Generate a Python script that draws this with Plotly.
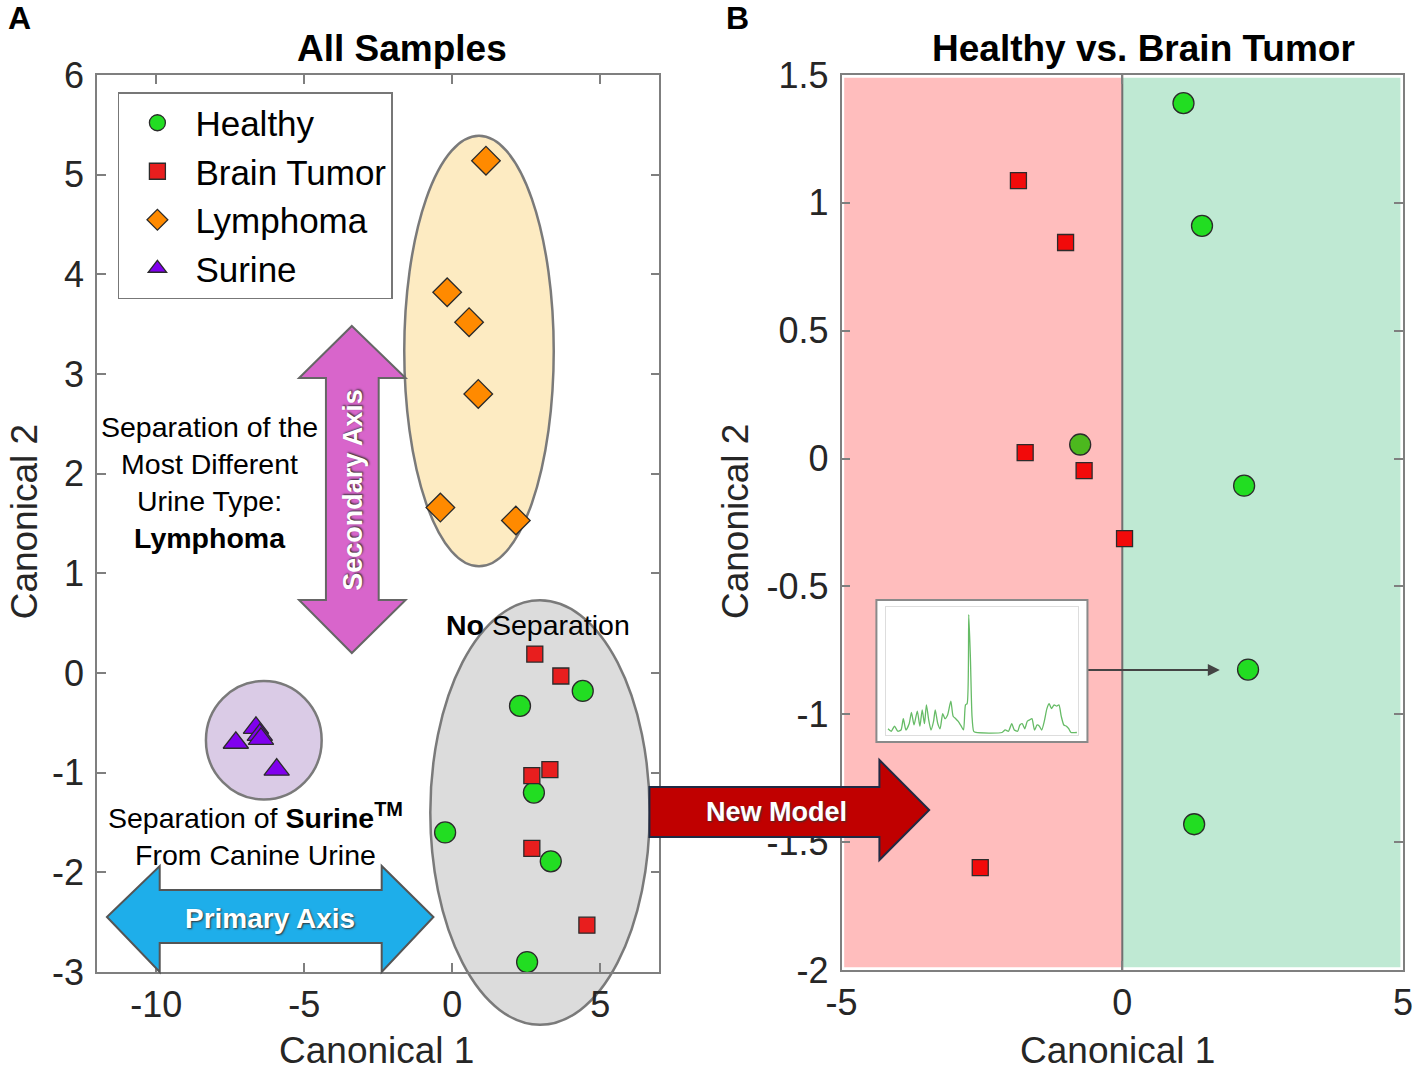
import plotly.graph_objects as go

# ---------------- data ----------------
# Panel A: All Samples (Canonical 1, Canonical 2)
healthy_a_x = [4.41, 2.29, 2.76, -0.24, 3.33, 2.53]
healthy_a_y = [-0.18, -0.33, -1.20, -1.60, -1.89, -2.90]
tumor_a_x = [2.79, 3.67, 2.69, 3.30, 2.69, 4.55]
tumor_a_y = [0.19, -0.03, -1.03, -0.97, -1.76, -2.53]
lymph_a_x = [1.14, -0.17, 0.57, 0.88, -0.40, 2.15]
lymph_a_y = [5.14, 3.82, 3.52, 2.80, 1.66, 1.53]
surine_a_x = [-7.31, -6.63, -6.50, -6.46, -5.93]
surine_a_y = [-0.70, -0.55, -0.62, -0.66, -0.97]

# Panel B: Healthy vs. Brain Tumor
healthy_b_x = [1.09, 1.42, -0.75, 2.17, 2.24, 1.28]
healthy_b_y = [1.39, 0.91, 0.055, -0.106, -0.825, -1.43]
tumor_b_x = [-1.85, -1.01, -1.73, -0.68, 0.04, -2.53]
tumor_b_y = [1.087, 0.845, 0.023, -0.047, -0.313, -1.60]

# Inset spectrum (arbitrary channel, relative intensity)
spec_ch = [60, 70, 80, 90, 100, 107, 115, 125, 132, 140, 150, 158, 165, 172, 178, 185,
           192, 200, 205, 213, 220, 228, 235, 243, 253, 260, 268, 275, 285, 292, 298, 303,
           308, 313, 318, 323, 330, 410, 420, 430, 440, 448, 458, 465, 472, 480, 488, 495,
           502, 510, 518, 525, 532, 540, 548, 555, 562, 570, 578, 585, 592, 600, 608, 615,
           622, 640]
spec_int = [0.03, 0.01, 0.05, 0.01, 0.02, 0.11, 0.02, 0.07, 0.16, 0.06, 0.17, 0.05, 0.18,
            0.07, 0.22, 0.10, 0.02, 0.09, 0.18, 0.07, 0.03, 0.15, 0.11, 0.14, 0.25, 0.13,
            0.11, 0.09, 0.05, 0.02, 0.22, 0.23, 0.94, 0.60, 0.13, 0.01, 0.0, 0.0, 0.02,
            0.01, 0.07, 0.02, 0.01, 0.06, 0.07, 0.03, 0.09, 0.10, 0.11, 0.02, 0.06, 0.05,
            0.02, 0.09, 0.19, 0.23, 0.19, 0.22, 0.21, 0.22, 0.13, 0.06, 0.05, 0.03, 0.0, 0.0]

xticks_a = [-10, -5, 0, 5]
xticktext_a = ["-10", "-5", "0", "5"]
yticks_a = [-3, -2, -1, 0, 1, 2, 3, 4, 5, 6]
yticktext_a = ["-3", "-2", "-1", "0", "1", "2", "3", "4", "5", "6"]
xticks_b = [-5, 0, 5]
xticktext_b = ["-5", "0", "5"]
yticks_b = [-2, -1.5, -1, -0.5, 0, 0.5, 1, 1.5]
yticktext_b = ["-2", "-1.5", "-1", "-0.5", "0", "0.5", "1", "1.5"]

# ---------------- layout geometry ----------------
W, H = 1425, 1072
L, R, T, B = 97, 16, 75, 100
PW, PH = W - L - R, H - T - B

def px(x):
    return (x - L) / PW

def py(y):
    return 1 - (y - T) / PH

XR_A, YR_A = [-12, 7], [-3, 6]
XR_B, YR_B = [-5, 5], [-2, 1.5]
DX_A = [0, px(662)]
DX_B = [px(845), 1]
DY_A = [0, 1]
DY_B = [py(970), 1]

def to_paper(v, rng, dom):
    return dom[0] + (v - rng[0]) / (rng[1] - rng[0]) * (dom[1] - dom[0])

def path(pts):
    return "M " + " L ".join(f"{px(a):.5f},{py(b):.5f}" for a, b in pts) + " Z"

FONT = "Liberation Sans, Arial, Helvetica, sans-serif"
EDGE = "#2b2b2b"

fig = go.Figure()

# Panel A traces
fig.add_trace(go.Scatter(x=healthy_a_x, y=healthy_a_y, mode="markers", name="Healthy",
                         marker=dict(symbol="circle", size=21, color="#22DD22",
                                     line=dict(color=EDGE, width=1.3)),
                         xaxis="x", yaxis="y"))
fig.add_trace(go.Scatter(x=tumor_a_x, y=tumor_a_y, mode="markers", name="Brain Tumor",
                         marker=dict(symbol="square", size=16, color="#E81E1E",
                                     line=dict(color=EDGE, width=1.3)),
                         xaxis="x", yaxis="y"))
fig.add_trace(go.Scatter(x=lymph_a_x, y=lymph_a_y, mode="markers", name="Lymphoma",
                         marker=dict(symbol="diamond", size=22, color="#FF8A00",
                                     line=dict(color=EDGE, width=1.3)),
                         xaxis="x", yaxis="y"))
fig.add_trace(go.Scatter(x=surine_a_x, y=surine_a_y, mode="markers", name="Surine",
                         marker=dict(symbol="triangle-up", size=22, color="#8000EE",
                                     line=dict(color=EDGE, width=1.3)),
                         xaxis="x", yaxis="y"))

# Panel B traces
hb_colors = ["#4CB81E" if v < 0 else "#22DD22" for v in healthy_b_x]
fig.add_trace(go.Scatter(x=healthy_b_x, y=healthy_b_y, mode="markers", showlegend=False,
                         marker=dict(symbol="circle", size=21, color=hb_colors,
                                     line=dict(color=EDGE, width=1.3)),
                         xaxis="x2", yaxis="y2"))
fig.add_trace(go.Scatter(x=tumor_b_x, y=tumor_b_y, mode="markers", showlegend=False,
                         marker=dict(symbol="square", size=16, color="#F20A0A",
                                     line=dict(color=EDGE, width=1.3)),
                         xaxis="x2", yaxis="y2"))

# Inset spectrum
fig.add_trace(go.Scatter(x=spec_ch, y=spec_int, mode="lines", showlegend=False,
                         line=dict(color="#66BB66", width=1.3, shape="spline", smoothing=0.6),
                         xaxis="x3", yaxis="y3"))

shapes = []
xb0 = to_paper(-5, XR_B, DX_B); xbm = to_paper(0, XR_B, DX_B); xb1 = to_paper(5, XR_B, DX_B)
yb0 = to_paper(-2, YR_B, DY_B); yb1 = to_paper(1.5, YR_B, DY_B)
shapes.append(dict(type="rect", xref="paper", yref="paper", x0=xb0 + 0.002, x1=xbm,
                   y0=yb0 + 0.003, y1=yb1 - 0.003, fillcolor="#FFBDBD", line=dict(width=0),
                   layer="below"))
shapes.append(dict(type="rect", xref="paper", yref="paper", x0=xbm, x1=xb1 - 0.002,
                   y0=yb0 + 0.003, y1=yb1 - 0.003, fillcolor="#BFE9D3", line=dict(width=0),
                   layer="below"))
shapes.append(dict(type="line", xref="paper", yref="paper", x0=xbm, x1=xbm, y0=yb0, y1=yb1,
                   line=dict(color="#707070", width=2), layer="below"))

def ell(x0, x1, y0, y1, fill):
    return dict(type="circle", xref="paper", yref="paper",
                x0=to_paper(x0, XR_A, DX_A), x1=to_paper(x1, XR_A, DX_A),
                y0=to_paper(y0, YR_A, DY_A), y1=to_paper(y1, YR_A, DY_A),
                fillcolor=fill, line=dict(color="#7a7a7a", width=2.5), layer="below")

shapes.append(ell(-1.62, 3.43, 1.07, 5.39, "#FDEBC2"))
shapes.append(ell(-0.74, 6.67, -3.53, 0.73, "#DCDCDC"))
shapes.append(ell(-8.32, -4.41, -1.27, -0.08, "#DACBE6"))

shapes.append(dict(type="rect", xref="paper", yref="paper", x0=px(880), x1=px(1092),
                   y0=py(742), y1=py(600), fillcolor="white",
                   line=dict(color="#8a8a8a", width=2), layer="below"))

shapes.append(dict(type="path", xref="paper", yref="paper",
                   path=path([(353, 326), (407, 378), (380, 378), (380, 600), (407, 600),
                              (353, 653), (300, 600), (327, 600), (327, 378), (300, 378)]),
                   fillcolor="#D865CB", line=dict(color="#666666", width=2), layer="above"))
shapes.append(dict(type="path", xref="paper", yref="paper",
                   path=path([(107, 917), (160, 866), (160, 890), (383, 890), (383, 866),
                              (435, 917), (383, 972), (383, 943), (160, 943), (160, 972)]),
                   fillcolor="#1EAEEA", line=dict(color="#555555", width=2), layer="above"))
shapes.append(dict(type="path", xref="paper", yref="paper",
                   path=path([(652, 787), (883, 787), (883, 760), (933, 810), (883, 860),
                              (883, 837), (652, 837)]),
                   fillcolor="#C00000", line=dict(color="#1F2A44", width=2), layer="above"))

shadow = "1px 1px 2px #333"

def note(text, x, y, size, color="black", angle=0, fshadow=None):
    f = dict(size=size, color=color, family=FONT)
    if fshadow:
        f["shadow"] = fshadow
    return dict(text=text, x=px(x), y=py(y), xref="paper", yref="paper", showarrow=False,
                xanchor="center", yanchor="middle", textangle=angle, font=f)

annotations = [
    note("<b>A</b>", 19, 18, 32),
    note("<b>B</b>", 740, 18, 32),
    note("<b>All Samples</b>", 403, 48, 37),
    note("<b>Healthy vs. Brain Tumor</b>", 1148, 48, 37),
    note("Canonical 2", 24, 522, 37, "#262626", -90),
    note("Canonical 1", 378, 1050, 37, "#262626"),
    note("Canonical 2", 738, 522, 37, "#262626", -90),
    note("Canonical 1", 1122, 1050, 37, "#262626"),
    note("Separation of the<br>Most Different<br>Urine Type:<br><b>Lymphoma</b>",
         210, 482, 28.5),
    note("Separation of <b>Surine</b><sup><b>TM</b></sup><br>From Canine Urine",
         256, 834, 28.5),
    note("<b>No</b> Separation", 540, 625, 28.5),
    note("<b>Secondary Axis</b>", 354, 490, 27, "white", -90, shadow),
    note("<b>Primary Axis</b>", 271, 918, 28, "white", 0, shadow),
    note("<b>New Model</b>", 780, 812, 27, "white", 0, shadow),
    dict(text="", x=px(1225), y=py(670), xref="paper", yref="paper", showarrow=True,
         ax=-133, ay=0, arrowhead=2, arrowsize=1.2, arrowwidth=2, arrowcolor="#444444"),
]

axis_common = dict(showgrid=False, zeroline=False, showline=True, linecolor="#7f7f7f",
                   linewidth=1.5, mirror="ticks", ticks="inside", ticklen=9,
                   tickcolor="#7f7f7f", tickwidth=1.5,
                   tickfont=dict(size=36, color="#262626", family=FONT))

fig.update_layout(
    width=W, height=H,
    margin=dict(l=L, r=R, t=T, b=B),
    paper_bgcolor="white", plot_bgcolor="white",
    font=dict(family=FONT),
    xaxis=dict(domain=DX_A, range=XR_A, tickvals=xticks_a, ticktext=xticktext_a,
               anchor="y", **axis_common),
    yaxis=dict(domain=DY_A, range=YR_A, tickvals=yticks_a, ticktext=yticktext_a,
               anchor="x", ticklabelstandoff=4, **axis_common),
    xaxis2=dict(domain=DX_B, range=XR_B, tickvals=xticks_b, ticktext=xticktext_b,
                anchor="y2", **axis_common),
    yaxis2=dict(domain=DY_B, range=YR_B, tickvals=yticks_b, ticktext=yticktext_b,
                anchor="x2", ticklabelstandoff=4, **axis_common),
    xaxis3=dict(domain=[px(890), px(1083)], range=[55, 645], anchor="y3", showgrid=False,
                zeroline=False, showticklabels=False, ticks="", showline=True,
                linecolor="#dddddd", linewidth=1, mirror=True),
    yaxis3=dict(domain=[py(735), py(607)], range=[-0.02, 1.0], anchor="x3", showgrid=False,
                zeroline=False, showticklabels=False, ticks="", showline=True,
                linecolor="#dddddd", linewidth=1, mirror=True),
    legend=dict(x=px(118), y=py(92), xanchor="left", yanchor="top", bgcolor="white",
                bordercolor="#777777", borderwidth=1.5, itemwidth=66,
                font=dict(size=35, color="black", family=FONT), itemsizing="trace"),
    shapes=shapes,
    annotations=annotations,
)

fig.write_html("out.html", config={"displayModeBar": False},
               post_script="document.body.style.margin='0px';")
